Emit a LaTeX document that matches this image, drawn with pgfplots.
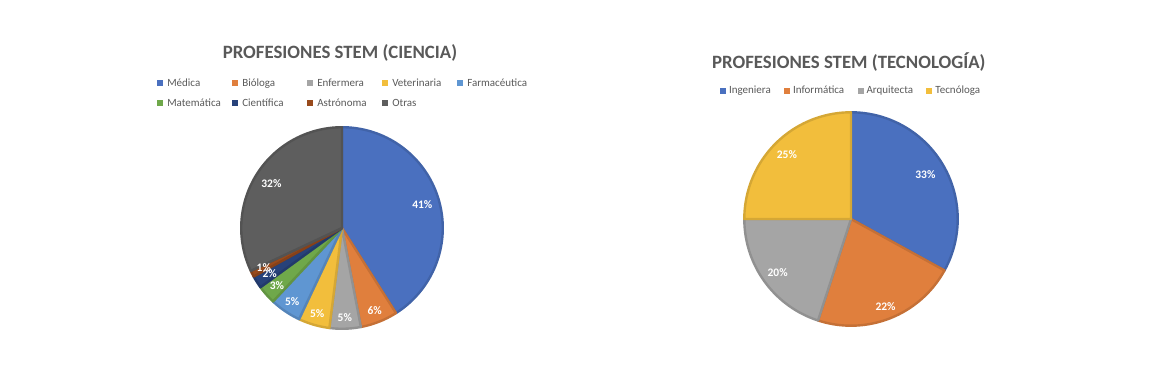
\documentclass[border=0pt]{standalone}
\usepackage{pgfplots}
\pgfplotsset{compat=1.18}
\usepackage{fontspec}
\setmainfont{Carlito}
\definecolor{tgray}{HTML}{595959}
\definecolor{cBlue}{HTML}{4A70BF}
\definecolor{cOrange}{HTML}{E07F3D}
\definecolor{cGray}{HTML}{A5A5A5}
\definecolor{cGold}{HTML}{F2BE3C}
\definecolor{cLBlue}{HTML}{5F96D2}
\definecolor{cGreen}{HTML}{6FA84A}
\definecolor{cDBlue}{HTML}{27427A}
\definecolor{cBrown}{HTML}{984A1C}
\definecolor{cDGray}{HTML}{5E5E5E}

% #1 cumulative start (%), #2 value (%), #3 colour, #4 legend text
\newcommand{\pieslice}[4]{%
  \addplot[fill=#3, draw=#3!88!black, line width=2.4pt, line join=round,
    domain={90-3.6*(#1+#2)}:{90-3.6*(#1)}, samples=80, variable=\t]
    ({0.988*cos(\t)},{0.988*sin(\t)}) -- (axis cs:0,0) -- cycle;
  \addlegendentry{#4}%
}
% #1 cumulative start, #2 value, #3 radius
\newcommand{\pielabel}[3]{%
  \node[text=white, font=\fontsize{11.5}{12}\selectfont\bfseries, inner sep=0pt]
    at (axis cs:{#3*cos(90-3.6*(#1+0.5*#2))},{#3*sin(90-3.6*(#1+0.5*#2))}) {#2\%};%
}
\newcommand{\lb}[1]{\makebox[61pt][l]{#1}}

\pgfplotsset{
  every axis title shift=0pt,
  piestyle/.style={
    hide axis, clip=false, anchor=center,
    xmin=-1, xmax=1, ymin=-1, ymax=1,
    legend cell align=left,
    legend image code/.code={\fill[##1, draw=none] (0pt,-3pt) rectangle (6pt,3pt);},
    title style={font=\fontsize{18.8}{20}\selectfont\bfseries, text=tgray, anchor=base, inner sep=0pt},
  }
}

\begin{document}
\begin{tikzpicture}
\useasboundingbox (0,0) rectangle (1162pt,366pt);

% ---------------- Ciencia ----------------
\begin{axis}[piestyle,
  at={(342pt,138pt)}, x=102pt, y=102pt,
  title={PROFESIONES STEM (CIENCIA)},
  title style={at={(0.49,1.333)}},
  legend columns=5,
  legend style={draw=none, fill=none, inner sep=0pt, outer sep=0pt,
    at={(-0.4054,1.1593)}, anchor=west,
    font=\fontsize{11}{13}\selectfont, text=tgray,
    nodes={inner sep=0pt, text height=8pt, text depth=2.5pt},
    row sep=9.5pt,
    /tikz/every odd column/.append style={column sep=4pt},
    /tikz/every even column/.append style={column sep=4pt}},
]
\pieslice{0}{41}{cBlue}{\lb{Médica}}
\pieslice{41}{6}{cOrange}{\lb{Bióloga}}
\pieslice{47}{5}{cGray}{\lb{Enfermera}}
\pieslice{52}{5}{cGold}{\lb{Veterinaria}}
\pieslice{57}{5}{cLBlue}{\lb{Farmacéutica}}
\pieslice{62}{3}{cGreen}{\lb{Matemática}}
\pieslice{65}{2}{cDBlue}{\lb{Científica}}
\pieslice{67}{1}{cBrown}{\lb{Astrónoma}}
\pieslice{68}{32}{cDGray}{\lb{Otras}}
\pielabel{0}{41}{0.82}
\pielabel{41}{6}{0.87}
\pielabel{47}{5}{0.88}
\pielabel{52}{5}{0.87}
\pielabel{57}{5}{0.87}
\pielabel{62}{3}{0.85}
\pielabel{65}{2}{0.84}
\pielabel{67}{1}{0.86}
\pielabel{68}{32}{0.82}
\end{axis}

% ---------------- Tecnologia ----------------
\begin{axis}[piestyle,
  at={(851pt,147pt)}, x=108pt, y=108pt,
  title={PROFESIONES STEM (TECNOLOGÍA)},
  title style={at={(0.49,1.199)}},
  legend columns=4,
  legend style={draw=none, fill=none, inner sep=0pt, outer sep=0pt,
    at={(-0.1065,1.092)}, anchor=west,
    font=\fontsize{11}{13}\selectfont, text=tgray,
    nodes={inner sep=0pt, text height=8pt, text depth=2.5pt},
    /tikz/every odd column/.append style={column sep=3pt},
    /tikz/every even column/.append style={column sep=13.3pt}},
]
\pieslice{0}{33}{cBlue}{Ingeniera}
\pieslice{33}{22}{cOrange}{Informática}
\pieslice{55}{20}{cGray}{Arquitecta}
\pieslice{75}{25}{cGold}{Tecnóloga}
\pielabel{0}{33}{0.80}
\pielabel{33}{22}{0.87}
\pielabel{55}{20}{0.84}
\pielabel{75}{25}{0.84}
\end{axis}
\end{tikzpicture}
\end{document}
